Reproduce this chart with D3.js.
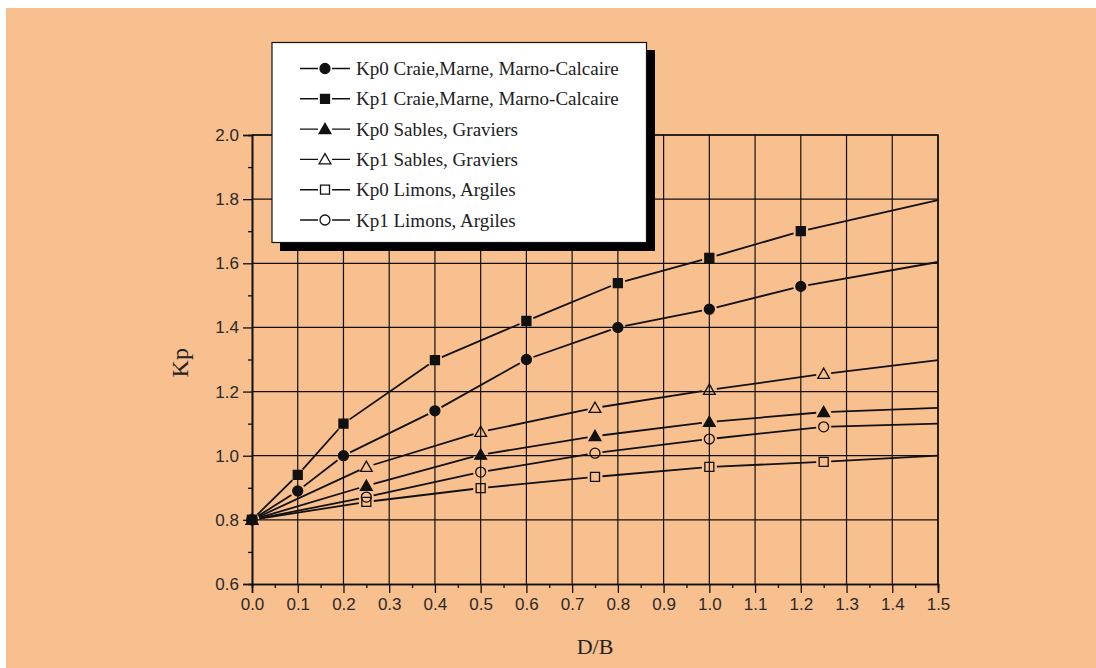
<!DOCTYPE html>
<html>
<head>
<meta charset="utf-8">
<script src="https://cdn.jsdelivr.net/npm/d3@7"></script>
<style>
  body { margin: 0; background: #ffffff; }
  svg { display: block; }
</style>
</head>
<body>
<div id="chart"></div>
<script>
const WIDTH = 1096;
const HEIGHT = 668;
const BG = "#f8bf8f";
const INK = "#111111";

// data
const seriesNames = [
  "Kp0 Craie,Marne, Marno-Calcaire",
  "Kp1 Craie,Marne, Marno-Calcaire",
  "Kp0 Sables, Graviers",
  "Kp1 Sables, Graviers",
  "Kp0 Limons, Argiles",
  "Kp1 Limons, Argiles"
];
const seriesSymbols = ["circle", "square", "triangle", "triangle", "square", "circle"];
const seriesFilled = [true, true, true, false, false, false];

const xCraie = [0, 0.1, 0.2, 0.4, 0.6, 0.8, 1.0, 1.2, 1.5];
const xSables = [0, 0.25, 0.5, 0.75, 1.0, 1.25, 1.5];

const kp0Craie = [0.80, 0.89, 1.00, 1.14, 1.30, 1.40, 1.457, 1.528, 1.604];
const kp1Craie = [0.80, 0.94, 1.10, 1.298, 1.42, 1.538, 1.617, 1.70, 1.797];
const kp0Sables = [0.80, 0.906, 1.003, 1.061, 1.105, 1.136, 1.149];
const kp1Sables = [0.80, 0.965, 1.074, 1.149, 1.205, 1.255, 1.298];
const kp0Limons = [0.80, 0.856, 0.899, 0.934, 0.965, 0.981, 1.00];
const kp1Limons = [0.80, 0.871, 0.949, 1.008, 1.052, 1.09, 1.10];

const seriesX = [xCraie, xCraie, xSables, xSables, xSables, xSables];
const seriesY = [kp0Craie, kp1Craie, kp0Sables, kp1Sables, kp0Limons, kp1Limons];

const xTicks = d3.range(0, 16).map(i => i / 10);
const yTicks = [0.6, 0.8, 1.0, 1.2, 1.4, 1.6, 1.8, 2.0];

const PLOT = {left: 252, right: 938, top: 135, bottom: 584};
const GAP = 7.5;

function symbolPath(kind, size) {
  const type = kind === "circle" ? d3.symbolCircle
             : kind === "square" ? d3.symbolSquare
             : d3.symbolTriangle;
  return d3.symbol().type(type).size(size)();
}

function symbolSize(kind) {
  return kind === "circle" ? 78 : kind === "square" ? 81 : 60;
}

function drawMarker(g, kind, filled, x, y) {
  g.append("path")
    .attr("d", symbolPath(kind, symbolSize(kind)))
    .attr("transform", "translate(" + x + "," + (kind === "triangle" ? y + 1 : y) + ")")
    .attr("fill", filled ? INK : "none")
    .attr("stroke", INK)
    .attr("stroke-width", 1.3);
}

const svg = d3.select("#chart")
  .append("svg")
  .attr("width", WIDTH)
  .attr("height", HEIGHT);

svg.append("rect")
  .attr("x", 6).attr("y", 8)
  .attr("width", WIDTH - 6).attr("height", HEIGHT - 8)
  .attr("fill", BG);

const xScale = d3.scaleLinear().domain([0, 1.5]).range([PLOT.left, PLOT.right]);
const yScale = d3.scaleLinear().domain([0.6, 2.0]).range([PLOT.bottom, PLOT.top]);

// grid
const grid = svg.append("g").attr("stroke", INK).attr("stroke-width", 1.2);
grid.selectAll("line.v")
  .data(xTicks.slice(1))
  .enter()
  .append("line")
  .attr("x1", d => xScale(d)).attr("x2", d => xScale(d))
  .attr("y1", PLOT.top).attr("y2", PLOT.bottom);
grid.selectAll("line.h")
  .data(yTicks.slice(1))
  .enter()
  .append("line")
  .attr("class", "h")
  .attr("x1", PLOT.left).attr("x2", PLOT.right)
  .attr("y1", d => yScale(d)).attr("y2", d => yScale(d));

// axes
const xAxis = d3.axisBottom(xScale).tickValues(xTicks).tickFormat(d3.format(".1f")).tickSize(9).tickPadding(5);
const xMinor = d3.axisBottom(xScale).tickValues(xTicks.map(d => d + 0.05).filter(d => d < 1.5)).tickFormat("").tickSize(4);
const yAxis = d3.axisLeft(yScale).tickValues(yTicks).tickFormat(d3.format(".1f")).tickSize(9).tickPadding(4);
const yMinor = d3.axisLeft(yScale).tickValues(yTicks.slice(0, -1).map(d => d + 0.1)).tickFormat("").tickSize(4);

[[xAxis, "translate(0," + PLOT.bottom + ")"], [xMinor, "translate(0," + PLOT.bottom + ")"],
 [yAxis, "translate(" + PLOT.left + ",0)"], [yMinor, "translate(" + PLOT.left + ",0)"]].forEach(a => {
  const g = svg.append("g").attr("transform", a[1]).call(a[0]);
  g.select(".domain").attr("stroke", INK).attr("stroke-width", 1.6);
  g.selectAll(".tick line").attr("stroke", INK).attr("stroke-width", 1.3);
  g.selectAll(".tick text")
    .attr("fill", "#2a2a2a")
    .style("font-family", "'Liberation Sans', Arial, sans-serif")
    .style("font-size", "17px");
});

// lines with gaps around symbols, then symbols
const plotG = svg.append("g");
seriesY.forEach((ys, s) => {
  const xs = seriesX[s];
  const pts = ys.map((v, i) => [xScale(xs[i]), yScale(v), xs[i] < 1.5]);
  for (let i = 0; i < pts.length - 1; i++) {
    const a = pts[i], b = pts[i + 1];
    const dx = b[0] - a[0], dy = b[1] - a[1];
    const len = Math.sqrt(dx * dx + dy * dy);
    const g0 = a[2] ? GAP : 0, g1 = b[2] ? GAP : 0;
    if (len <= g0 + g1) continue;
    plotG.append("line")
      .attr("x1", a[0] + dx * g0 / len).attr("y1", a[1] + dy * g0 / len)
      .attr("x2", b[0] - dx * g1 / len).attr("y2", b[1] - dy * g1 / len)
      .attr("stroke", INK)
      .attr("stroke-width", 1.8);
  }
  pts.filter(p => p[2]).forEach(p => drawMarker(plotG, seriesSymbols[s], seriesFilled[s], p[0], p[1]));
});

// frame top/right
svg.append("path")
  .attr("d", "M" + PLOT.left + "," + PLOT.top + "H" + PLOT.right + "V" + PLOT.bottom)
  .attr("fill", "none").attr("stroke", INK).attr("stroke-width", 1.5);

// axis titles
svg.append("text")
  .attr("x", xScale(0.75)).attr("y", 654)
  .attr("text-anchor", "middle")
  .style("font-family", "'Liberation Serif', 'Times New Roman', serif")
  .style("font-size", "22px")
  .attr("fill", "#222")
  .text("D/B");

svg.append("text")
  .attr("transform", "translate(188," + yScale(1.29) + ") rotate(-90)")
  .attr("text-anchor", "middle")
  .style("font-family", "'Liberation Serif', 'Times New Roman', serif")
  .style("font-size", "24px")
  .attr("fill", "#222")
  .text("Kp");

// legend
const legend = svg.append("g").attr("id", "legend");
legend.append("rect")
  .attr("x", 280).attr("y", 50).attr("width", 375).attr("height", 201)
  .attr("fill", "#000");
legend.append("rect")
  .attr("x", 272).attr("y", 42.5).attr("width", 374.5).attr("height", 200)
  .attr("fill", "#fff").attr("stroke", INK).attr("stroke-width", 1.2);

seriesNames.forEach((name, i) => {
  const cy = 68.5 + i * 30.3;
  legend.append("line")
    .attr("x1", 300).attr("x2", 350).attr("y1", cy).attr("y2", cy)
    .attr("stroke", INK).attr("stroke-width", 1.4);
  legend.append("rect")
    .attr("x", 318).attr("y", cy - 6).attr("width", 14).attr("height", 12)
    .attr("fill", "#fff");
  drawMarker(legend, seriesSymbols[i], seriesFilled[i], 325, cy);
  legend.append("text")
    .attr("x", 356).attr("y", cy + 6.5)
    .style("font-family", "'Liberation Serif', 'Times New Roman', serif")
    .style("font-size", "19px")
    .attr("fill", "#222")
    .text(name);
});
</script>
</body>
</html>
